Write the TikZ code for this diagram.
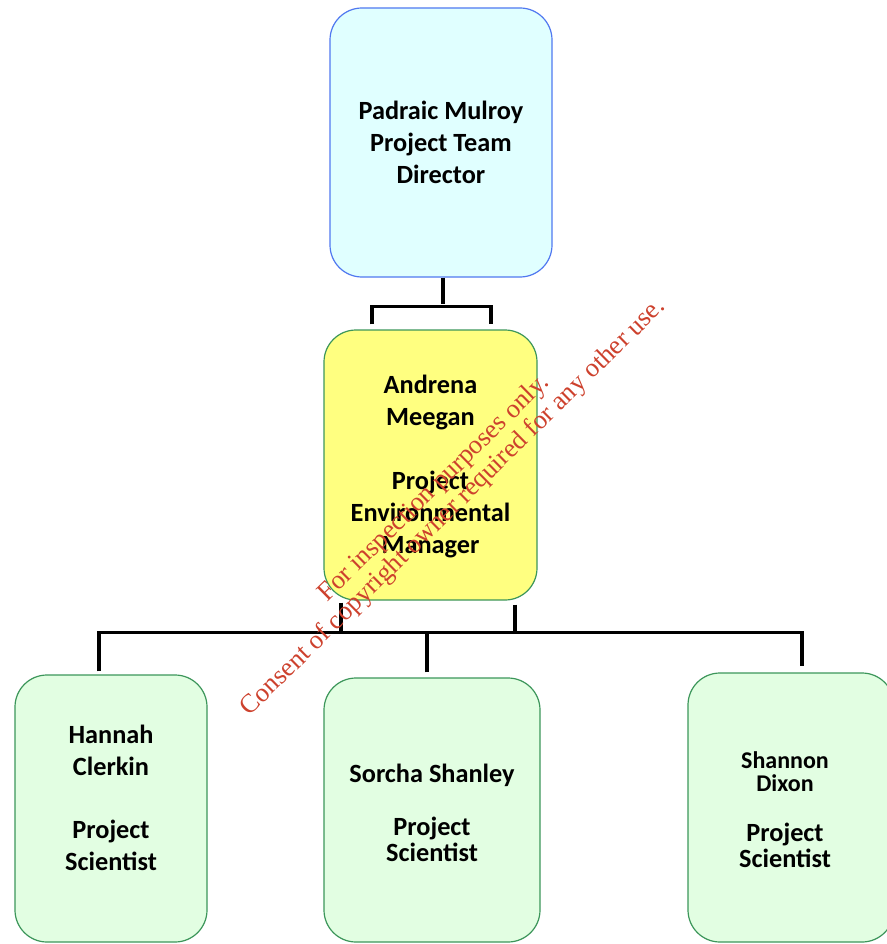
\documentclass[tikz,border=0pt]{standalone}
\usepackage{fontspec}
\setmainfont{Carlito}
\newfontfamily\wmfont{Liberation Serif}
\usetikzlibrary{calc}
\definecolor{topfill}{RGB}{224,255,255}
\definecolor{topline}{RGB}{80,120,240}
\definecolor{yelfill}{RGB}{255,255,128}
\definecolor{grnline}{RGB}{60,150,90}
\definecolor{grnfill}{RGB}{226,254,226}
\definecolor{wmred}{RGB}{205,65,45}
\begin{document}
\begin{tikzpicture}[x=1pt,y=-1pt,
  box/.style={rounded corners=32pt, line width=1.2pt, inner sep=0pt},
  topbox/.style={box, draw=topline, fill=topfill},
  yelbox/.style={box, draw=grnline, fill=yelfill},
  grnbox/.style={box, draw=grnline, fill=grnfill},
  txt/.style={align=center, inner sep=0pt, font=\bfseries\fontsize{26.3}{32}\selectfont},
  txtb/.style={align=center, inner sep=0pt, font=\bfseries\fontsize{26.3}{26}\selectfont},
  link/.style={line width=3.6pt, draw=black},
  wm/.style={align=center, inner sep=0pt, text=wmred, font=\wmfont\fontsize{26.5}{27}\selectfont}
]
\useasboundingbox (0,0) rectangle (886,944);

% boxes
\node[topbox, minimum width=222pt, minimum height=269pt] (director) at (441,142.5) {};
\node[yelbox, minimum width=213pt, minimum height=270pt] (manager) at (430.5,465) {};
\node[grnbox, minimum width=192pt, minimum height=267pt] (hannah) at (111,808.5) {};
\node[grnbox, minimum width=216pt, minimum height=264pt] (sorcha) at (432,810) {};
\node[grnbox, minimum width=206pt, minimum height=269pt] (shannon) at (791,807.5) {};

% texts
\node[txt] (directortxt) at (director.center) {Padraic Mulroy\\Project Team\\Director};
\node[txt] (managertxt) at ($(manager.center)+(0,1)$) {Andrena\\Meegan\\[32pt]Project\\Environmental\\Manager};
\node[txt] (hannahtxt) at ($(hannah.center)+(0,-11)$) {Hannah\\Clerkin\\[31pt]Project\\Scientist};
\node[txtb] (sorchatxt) at ($(sorcha.center)+(0,2.5)$) {Sorcha Shanley\\[27pt]Project\\Scientist};
\node[txtb] (shannontxt) at ($(shannon.center)+(-6,2)$) {{\fontsize{24}{23}\selectfont Shannon}\\[-3pt]{\fontsize{24}{23}\selectfont Dixon}\\[24pt]Project\\Scientist};

% connectors
\draw[link] ([xshift=2pt]director.south) -- ++(0,26);
\coordinate (ml) at ([xshift=-58.5pt,yshift=5pt]manager.north);
\coordinate (mr) at ([xshift=60.5pt,yshift=5pt]manager.north);
\draw[link] (ml) -- ++(0,-18) -| (mr);

\draw[link] ([xshift=-89.5pt,yshift=-2pt]manager.south) -- ++(0,31);
\draw[link] ([xshift=84.5pt,yshift=-4pt]manager.south) -- ++(0,29);
\draw[link] ([xshift=-12pt,yshift=3pt]hannah.north) -- ++(0,-39) -| ([xshift=11pt,yshift=6pt]shannon.north);
\draw[link] ([xshift=-5pt,yshift=5pt]sorcha.north) -- ++(0,-40);

% watermark
\node[wm, rotate=44.5] (watermark) at (444,498) {For inspection purposes only.\\Consent of copyright owner required for any other use.};
\end{tikzpicture}
\end{document}
